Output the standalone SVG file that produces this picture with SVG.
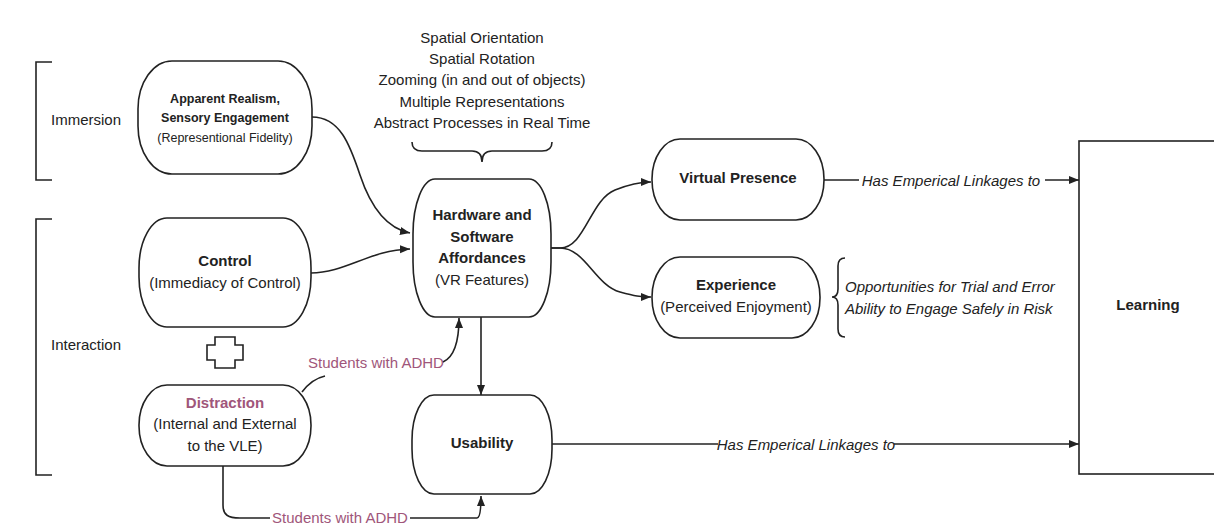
<svg xmlns="http://www.w3.org/2000/svg" width="1214" height="525" viewBox="0 0 1214 525">
<style>
text{font-family:"Liberation Sans",Arial,sans-serif;font-size:15px;fill:#222;}
.b{font-weight:bold;}
.i{font-style:italic;}
.sm{font-size:12.5px;}
.adhd{fill:#a0567a;}
.node{fill:#fff;stroke:#222;stroke-width:1.6;}
.ln{fill:none;stroke:#222;stroke-width:1.6;}
.arr{fill:none;stroke:#222;stroke-width:1.6;marker-end:url(#ah);}
.lbg{fill:#fff;}
</style>
<defs>
<marker id="ah" viewBox="0 0 10 10" refX="10" refY="5" markerWidth="10" markerHeight="10" markerUnits="userSpaceOnUse" orient="auto">
<path d="M0,1 L10,5 L0,9 Z" fill="#222"/>
</marker>
</defs>
<rect width="1214" height="525" fill="#fff"/>

<g id="brackets">
<path class="ln" d="M52,62 H36 V180 H52"/>
<text x="51" y="125">Immersion</text>
<path class="ln" d="M52,219 H36 V475 H52"/>
<text x="51" y="350">Interaction</text>
</g>

<g id="affordance-list" text-anchor="middle">
<text x="482" y="43">Spatial Orientation</text>
<text x="482" y="64">Spatial Rotation</text>
<text x="482" y="85">Zooming (in and out of objects)</text>
<text x="482" y="107">Multiple Representations</text>
<text x="482" y="128">Abstract Processes in Real Time</text>
<path class="ln" d="M412,142 Q412,151 422,151 H472 Q482,151 482,162 Q482,151 492,151 H542 Q552,151 552,142"/>
</g>

<g id="connectors">
<path class="arr" d="M312,117 C340,117 350,145 360,175 C370,205 385,228 410,233"/>
<path class="arr" d="M311,273 C345,273 370,250 410,249"/>
<path class="arr" d="M551,248 H560 C585,248 590,200 615,190 C630,184 640,182 651,182"/>
<path class="arr" d="M551,248 H560 C585,248 595,285 620,292 C635,296 640,297 651,297"/>
<path class="arr" d="M481,317 V395"/>
<path class="arr" d="M824,180 H1079"/>
<rect class="lbg" x="859" y="172" width="186" height="18"/>
<text class="i" x="951" y="186" text-anchor="middle">Has Emperical Linkages to</text>
<path class="arr" d="M552,444 H1079"/>
<rect class="lbg" x="718" y="436" width="176" height="18"/>
<text class="i" x="806" y="450" text-anchor="middle">Has Emperical Linkages to</text>
<path class="ln" d="M302,392 C308,384 316,378 325,376"/>
<text class="adhd" x="376" y="368" text-anchor="middle">Students with ADHD</text>
<path class="arr" d="M443,362 C452,358 459,345 459,318"/>
<path class="arr" d="M223,466 V505 C223,515 228,518 240,518 H477 C480,518 481,510 481,496"/>
<rect class="lbg" x="270" y="510" width="140" height="15"/>
<text class="adhd" x="340" y="523" text-anchor="middle">Students with ADHD</text>
</g>

<g id="apparent-realism">
<rect class="node" x="138" y="61" width="174" height="113" rx="34" ry="48"/>
<text class="b sm" x="225" y="103" text-anchor="middle">Apparent Realism,</text>
<text class="b sm" x="225" y="122" text-anchor="middle">Sensory Engagement</text>
<text class="sm" x="225" y="142" text-anchor="middle">(Representional Fidelity)</text>
</g>

<g id="control">
<rect class="node" x="139" y="218" width="172" height="109" rx="28" ry="50"/>
<text class="b" x="225" y="266" text-anchor="middle">Control</text>
<text x="225" y="288" text-anchor="middle">(Immediacy of Control)</text>
</g>

<g id="plus">
<polygon class="node" points="215,337 235,337 235,345 243,345 243,360 235,360 235,368 215,368 215,360 207,360 207,345 215,345"/>
</g>

<g id="distraction">
<rect class="node" x="139" y="385" width="172" height="81" rx="28" ry="40"/>
<text class="b adhd" x="225" y="408" text-anchor="middle">Distraction</text>
<text x="225" y="429" text-anchor="middle">(Internal and External</text>
<text x="225" y="451" text-anchor="middle">to the VLE)</text>
</g>

<g id="hardware">
<rect class="node" x="413" y="179" width="138" height="138" rx="22" ry="55"/>
<text class="b" x="482" y="220" text-anchor="middle">Hardware and</text>
<text class="b" x="482" y="242" text-anchor="middle">Software</text>
<text class="b" x="482" y="263" text-anchor="middle">Affordances</text>
<text x="482" y="285" text-anchor="middle">(VR Features)</text>
</g>

<g id="usability">
<rect class="node" x="412" y="395" width="140" height="99" rx="22" ry="45"/>
<text class="b" x="482" y="448" text-anchor="middle">Usability</text>
</g>

<g id="virtual-presence">
<rect class="node" x="652" y="139" width="172" height="81" rx="28" ry="40"/>
<text class="b" x="738" y="183" text-anchor="middle">Virtual Presence</text>
</g>

<g id="experience">
<rect class="node" x="652" y="257" width="168" height="81" rx="28" ry="40"/>
<text class="b" x="736" y="290" text-anchor="middle">Experience</text>
<text x="736" y="312" text-anchor="middle">(Perceived Enjoyment)</text>
</g>

<g id="experience-notes">
<path class="ln" d="M845,258 Q838,258 838,266 V289 Q838,297 832,297 Q838,297 838,305 V329 Q838,337 845,337"/>
<text class="i" x="845" y="292">Opportunities for Trial and Error</text>
<text class="i" x="845" y="314">Ability to Engage Safely in Risk</text>
</g>

<g id="learning">
<rect class="node" x="1079" y="141" width="200" height="333"/>
<text class="b" x="1148" y="310" text-anchor="middle">Learning</text>
</g>
</svg>
